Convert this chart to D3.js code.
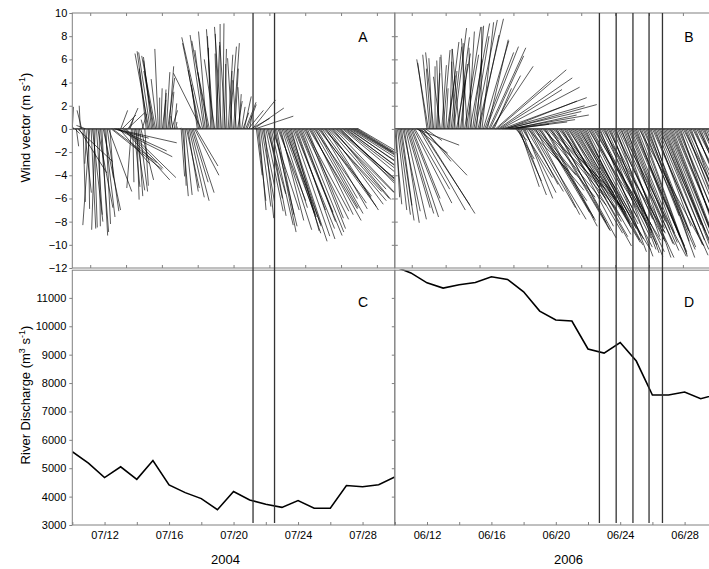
<!DOCTYPE html>
<html>
<head>
<meta charset="utf-8">
<script src="https://cdn.jsdelivr.net/npm/d3@7"></script>
<style>
body { margin: 0; background: #fff; }
svg { display: block; font-family: "Liberation Sans", Arial, sans-serif; }
.axis text { font-size: 11px; fill: #000; }
.axis line { stroke: #808080; }
</style>
</head>
<body>
<div class="chart"></div>
<script>

// wind sticks, one every 2 hours (u, v in m/s)
var windStep = 2;
var windStartA = "2004-07-10 00:00";
var windA_u = [
  0.1, -0.6, 0.4, 0.2, 3.0, 2.4, -0.1, -0.4, 0.2, 0.6,
  -0.8, -0.2, 0.1, -0.6, 0.4, 0.9, 0.3, -0.3, 0.5, 1.3,
  0.1, 0.7, 0.5, 1.5, 0.9, 0.4, 1.0, 2.0, 0.3, 4.4,
  3.8, 3.0, 5.3, 4.8, 4.2, 2.6, 0.6, 1.2, 4.0, 3.3,
  4.3, 1.5, 0.8, 0.3, -0.4, 0.1, 0.5, 0.8, 0.2, 0.4,
  0.7, 1.1, 0.4, -0.2, 0.3, -0.6, -0.9, -1.2, -1.0, -0.7,
  -0.8, -0.9, -1.2, -0.5, -0.3, 0.0, 0.1, 0.3, 0.2, 0.1,
  0.3, 0.6, 0.4, 0.3, 0.5, -0.2, 0.2, 0.1, 0.0, 0.0,
  0.1, 0.3, 0.5, 0.2, 0.6, 1.1, 0.9, 1.3, 1.6, 1.4,
  1.8, 2.1, 1.9, -0.5, -0.9, -1.5, -2.4, -1.8, -1.2, -0.9,
  -0.7, -1.4, -1.0, -0.2, -0.4, -0.6, -0.9, 0.3, -0.2, -0.3,
  0.0, -0.6, 0.1, 0.2, -0.5, -0.1, 0.4, 0.6, 0.1, -0.4,
  0.5, 0.3, -0.3, 0.4, 0.2, -0.2, 0.3, 0.5, 0.6, 0.9,
  0.8, 1.3, 0.2, 1.6, 2.0, 2.6, 3.3, 0.5, 0.7, 0.6,
  0.9, 1.1, 1.0, 0.8, 1.5, 1.6, 1.2, 1.4, 1.9, 2.3,
  2.0, 1.8, 1.5, 2.4, 2.8, 2.0, 2.2, 2.7, 3.1, 3.0,
  2.5, 2.8, 3.2, 2.4, 3.2, 3.5, 2.6, 3.3, 3.8, 2.9,
  3.0, 3.6, 3.9, 3.8, 3.4, 3.1, 4.2, 4.4, 3.6, 3.9,
  4.5, 4.1, 3.5, 4.6, 4.9, 4.0, 4.2, 5.0, 5.3, 4.5,
  4.8, 5.2, 5.5, 4.7, 5.0, 5.4, 5.6, 5.0, 5.2, 5.5,
  5.8, 5.6, 5.2, 5.1, 5.0, 4.9, 4.8, 4.7, 4.6, 4.8,
  4.9, 5.0, 5.2, 5.1
];
var windA_v = [
  1.9, 1.2, -0.4, -1.5, -2.8, -3.8, 2.0, 1.6, -6.3, -5.5,
  0.3, -3.0, -6.9, -8.3, -8.6, -8.0, -8.5, -8.7, -7.4, -6.8,
  -8.4, -8.9, -9.2, -7.0, -7.6, -8.2, -7.1, -5.4, -4.2, -3.5,
  -2.9, -0.8, -1.2, -2.4, -1.9, -3.0, 1.6, 1.2, -4.4, -3.4,
  -4.2, 1.4, 1.8, 0.9, -5.1, -4.6, -5.0, -5.3, -6.1, -5.8,
  -5.4, -4.4, 1.3, 0.8, -4.9, 5.2, 6.7, 6.5, 6.6, 6.2,
  5.9, 5.0, 6.3, 4.3, 6.9, 2.7, 3.5, 2.5, 3.4, 3.1,
  4.9, 4.4, 5.4, 3.2, 1.6, 1.1, 2.2, 0.6, 0.2, 0.0,
  0.1, -4.1, -5.8, -4.9, -5.7, -5.1, -5.4, -5.9, -6.2, -4.6,
  -5.5, -4.0, -3.2, 3.8, 5.1, 7.4, 4.8, 7.9, 8.1, 6.8,
  8.4, 7.6, 4.9, 7.0, 8.0, 8.6, 6.0, 7.2, 6.5, 8.2,
  9.05, 8.8, 9.1, 6.9, 7.5, 5.6, 6.4, 7.1, 5.0, 6.1,
  7.4, 5.2, 4.2, 2.4, 3.0, 3.6, 1.9, 1.4, 2.8, 2.3,
  2.1, 1.6, 1.2, 0.9, 2.5, 1.8, 1.1, -4.0, -6.2, -7.0,
  -6.7, -6.3, -5.0, -7.7, -7.1, -5.6, -6.0, -7.5, -8.3, -7.0,
  -8.4, -8.9, -7.4, -6.2, -8.7, -7.9, -6.8, -7.3, -8.2, -9.0,
  -7.6, -8.4, -9.7, -8.8, -9.25, -8.6, -7.0, -9.5, -9.2, -7.2,
  -8.0, -8.9, -7.8, -7.1, -8.6, -7.7, -6.9, -7.9, -7.4, -6.8,
  -6.4, -7.3, -6.0, -5.8, -6.7, -6.9, -5.9, -5.4, -6.2, -7.0,
  -6.5, -6.0, -5.5, -5.2, -6.1, -5.7, -5.0, -4.3, -4.6, -5.1,
  -5.9, -4.6, -4.0, -3.7, -3.8, -3.3, -3.4, -3.0, -2.8, -2.9,
  -3.0, -3.1, -3.2, -3.0
];

var windStartB = "2006-06-10 00:00";
var windB_u = [
  0.6, 0.3, 0.8, 1.0, 1.2, 0.9, 1.5, 1.3, 1.8, 2.0,
  2.2, 2.5, 2.8, 2.4, 3.3, 3.0, 3.7, 2.6, 4.0, 4.3,
  4.6, 3.8, 2.3, 1.4, -0.8, -1.0, -0.6, -0.4, -0.3, -0.7,
  0.0, 0.3, 0.2, -0.2, -0.6, 0.4, 0.6, -0.3, 0.2, 0.7,
  0.9, 0.2, 0.5, 0.8, 1.1, -0.3, 1.2, 1.0, -0.6, 0.6,
  0.3, 0.0, 1.4, 1.1, -0.5, 0.5, 1.7, -0.2, 0.8, 1.3,
  1.9, 0.6, 2.2, 1.7, 0.1, 1.0, 2.2, 2.5, 2.8, 1.8,
  3.2, 2.9, 3.6, 2.4, 1.5, 4.8, 6.0, 6.4, 5.4, 6.8,
  7.3, 7.0, 6.6, 6.1, 7.7, 6.9, 5.6, 4.8, 5.5, 3.0,
  1.0, 1.5, 2.0, 1.7, 2.2, 2.6, 2.8, 2.4, 3.2, 3.5,
  2.5, 3.9, 4.7, 4.4, 3.6, 3.8, 4.3, 4.9, 4.3, 4.7,
  5.2, 5.4, 4.5, 4.1, 5.0, 5.6, 5.1, 4.7, 5.5, 5.8,
  5.2, 4.6, 5.0, 5.7, 5.3, 4.4, 4.8, 5.4, 5.6, 5.0,
  4.5, 5.2, 5.9, 4.9, 4.2, 5.5, 6.3, 4.8, 4.4, 5.3,
  5.0, 4.5, 3.8, 4.9, 5.5, 4.2, 4.0, 5.2, 5.8, 4.4,
  3.8, 4.6, 5.0, 4.0, 4.3, 5.4, 5.2, 4.1, 3.9, 4.9,
  4.6, 3.9, 3.5, 4.4, 5.1, 3.7, 4.0, 4.8, 5.7, 3.3,
  3.6, 4.2, 4.6, 3.8, 3.2, 3.5, 4.0, 4.7, 4.4, 3.9,
  3.3, 4.3, 5.6, 3.4, 3.9, 4.5, 3.0, 3.7, 4.2, 4.0,
  3.5, 3.3, 4.8, 4.2, 3.1, 3.6, 4.4, 4.9, 3.8, 3.4,
  4.6, 4.0, 3.4, 3.8, 4.1, 4.4, 3.6, 3.3, 4.5, 4.1,
  3.2, 3.9, 4.0, 3.5, 3.7, 4.6, 4.3, 3.7, 3.5, 4.1,
  3.9, 3.4, 4.2, 3.9, 3.6, 4.3, 4.0, 3.6, 3.4, 3.9,
  3.8, 3.3, 3.5, 3.8, 3.7, 3.5, 3.4, 3.9, 3.6, 3.5
];
var windB_v = [
  -6.5, -5.9, -7.0, -7.4, -7.9, -6.6, -7.1, -8.1, -7.8, -6.8,
  -7.3, -7.6, -7.1, -6.0, -6.4, -5.2, -1.4, -2.1, -7.0, -6.6,
  -7.3, -4.0, -2.8, -1.0, 5.7, 6.0, 6.4, 5.2, 6.1, 6.6,
  5.4, 4.8, 6.2, 5.9, 4.5, 5.5, 6.8, 6.4, 3.5, 4.6,
  7.5, 6.9, 5.0, 7.1, 8.7, 5.8, 6.5, 7.9, 6.9, 5.6,
  4.2, 7.4, 8.8, 6.4, 7.8, 8.4, 9.1, 7.0, 6.0, 8.0,
  9.4, 8.9, 9.5, 8.1, 8.8, 9.2, 7.6, 6.6, 7.1, 7.7,
  7.0, 6.3, 5.4, 4.6, 3.5, 4.2, 5.1, 4.4, 3.4, 3.6,
  2.7, 2.0, 1.5, 2.4, 2.1, 1.2, 0.8, 0.6, 1.2, 0.4,
  -1.0, -2.6, -4.5, -5.0, -5.7, -4.2, -5.5, -6.0, -5.4, -3.6,
  -4.8, -6.8, -7.8, -5.3, -4.0, -7.4, -6.2, -5.9, -7.2, -7.9,
  -5.0, -6.6, -8.4, -7.7, -6.0, -5.5, -8.7, -8.1, -7.0, -6.8,
  -9.4, -8.8, -6.5, -7.2, -9.0, -8.4, -7.5, -9.3, -10.1, -7.4,
  -8.0, -9.1, -9.8, -8.2, -7.0, -9.6, -10.4, -7.7, -8.5, -10.0,
  -9.2, -8.6, -8.0, -9.5, -8.8, -8.2, -7.6, -10.2, -9.6, -7.9,
  -6.8, -9.4, -10.0, -10.6, -8.3, -9.0, -10.6, -11.0, -9.0, -9.7,
  -11.0, -10.4, -7.8, -8.9, -11.1, -10.7, -9.5, -10.0, -11.0, -9.3,
  -8.6, -9.9, -10.5, -11.1, -8.0, -8.7, -9.8, -10.6, -10.1, -9.4,
  -9.0, -11.0, -10.1, -9.2, -10.8, -10.4, -7.5, -8.8, -10.2, -11.1,
  -9.0, -9.7, -10.9, -10.0, -8.4, -9.1, -10.4, -10.8, -9.6, -8.3,
  -11.2, -10.3, -8.8, -9.5, -10.0, -10.9, -9.3, -8.6, -10.6, -9.9,
  -8.2, -9.2, -9.8, -10.5, -8.9, -9.0, -10.2, -9.7, -8.5, -8.3,
  -9.4, -9.9, -8.0, -8.6, -9.1, -8.2, -7.6, -9.0, -8.7, -8.1,
  -7.9, -8.9, -8.4, -7.8, -7.7, -8.6, -8.0, -7.9, -7.5, -8.2
];

// daily river discharge (m3/s), starting at the panel's first day
var dischargeA = [5580, 5180, 4670, 5050, 4610, 5270, 4410, 4140, 3930, 3540, 4180,
  3880, 3730, 3620, 3860, 3590, 3590, 4390, 4350, 4420, 4690];
var dischargeB = [12100, 11880, 11530, 11345, 11460, 11545, 11745, 11650, 11215, 10535, 10220,
  10185, 9200, 9056, 9430, 8775, 7580, 7580, 7685, 7450, 7600];

// times of the vertical marker lines
var eventsA = ["2004-07-21 05:00", "2004-07-22 13:00"];
var eventsB = ["2006-06-22 17:00", "2006-06-23 18:00", "2006-06-24 19:00", "2006-06-25 19:00", "2006-06-26 15:00"];

var windTicks = d3.range(-12, 11, 2);
var qTicks = d3.range(3000, 11001, 1000);

// layout
var svgWidth = 709;
var svgHeight = 569;
var xLeft = 72.3, xMid = 394.8, xRight = 716.8;
var wTop = 13, wBottom = 268, qTop = 269.5, qBottom = 525;
var frameColor = "#808080";

var svg = d3.select(".chart")
    .append("svg")
    .attr("width", svgWidth)
    .attr("height", svgHeight);

var parse = d3.timeParse("%Y-%m-%d %H:%M");

var yWind = d3.scaleLinear().domain([-12, 10]).range([wBottom, wTop]);
var yQ = d3.scaleLinear().domain([3000, 12000]).range([qBottom, qTop]);
var unit = yWind(0) - yWind(1); // px per m/s, used for the u component

var panels = [
  { start: parse(windStartA), u: windA_u, v: windA_v, q: dischargeA, events: eventsA,
    x0: xLeft, x1: xMid, tickDomain: [-1, 17], year: "2004", yearDay: 9.5,
    wLabel: "A", qLabel: "C", labelX: 363 },
  { start: parse(windStartB), u: windB_u, v: windB_v, q: dischargeB, events: eventsB,
    x0: xMid, x1: xRight, tickDomain: [-1, 18], year: "2006", yearDay: 10.8,
    wLabel: "B", qLabel: "D", labelX: 689 }
];

var fmt = d3.timeFormat("%m/%d");

panels.forEach(function(p, n) {
  var x = d3.scaleTime()
      .domain([p.start, d3.timeDay.offset(p.start, 20)])
      .range([p.x0, p.x1]);

  // clip areas
  svg.append("clipPath").attr("id", "clipW" + n)
    .append("rect").attr("x", p.x0).attr("y", wTop).attr("width", p.x1 - p.x0).attr("height", wBottom - wTop);
  svg.append("clipPath").attr("id", "clipQ" + n)
    .append("rect").attr("x", p.x0).attr("y", qTop).attr("width", p.x1 - p.x0).attr("height", qBottom - qTop);

  // wind sticks
  var sticks = p.u.map(function(d, i) {
    return { t: d3.timeHour.offset(p.start, i * windStep), u: d, v: p.v[i] };
  });

  var wG = svg.append("g").attr("clip-path", "url(#clipW" + n + ")");

  wG.selectAll("line.stick")
    .data(sticks)
    .enter()
    .append("line")
    .attr("class", "stick")
    .attr("x1", function(d) { return x(d.t); })
    .attr("y1", yWind(0))
    .attr("x2", function(d) { return x(d.t) + d.u * unit; })
    .attr("y2", function(d) { return yWind(d.v); })
    .attr("stroke", "#000")
    .attr("stroke-width", 0.65);

  // zero line along the span of the wind record
  wG.append("line")
    .attr("x1", x(sticks[0].t))
    .attr("x2", x(sticks[sticks.length - 1].t))
    .attr("y1", yWind(0))
    .attr("y2", yWind(0))
    .attr("stroke", "#222")
    .attr("stroke-width", 1.4);

  // discharge
  var line = d3.line()
    .x(function(d, i) { return x(d3.timeDay.offset(p.start, i)); })
    .y(function(d) { return yQ(d); });

  svg.append("path")
    .datum(p.q)
    .attr("clip-path", "url(#clipQ" + n + ")")
    .attr("d", line)
    .attr("fill", "none")
    .attr("stroke", "#000")
    .attr("stroke-width", 1.6);

  // frames
  svg.append("rect")
    .attr("x", p.x0).attr("y", wTop).attr("width", p.x1 - p.x0).attr("height", wBottom - wTop)
    .attr("fill", "none").attr("stroke", frameColor);
  svg.append("rect")
    .attr("x", p.x0).attr("y", qTop + 0.7).attr("width", p.x1 - p.x0).attr("height", qBottom - qTop - 0.7)
    .attr("fill", "none").attr("stroke", frameColor);

  // unlabelled ticks on top and bottom of the wind panel
  var tickScale = d3.scaleLinear().domain(p.tickDomain).range([p.x0, p.x1]);
  var tickVals = d3.range(0, p.tickDomain[1] + 0.1, 2);

  svg.append("g")
    .attr("class", "axis")
    .attr("transform", "translate(0," + wTop + ")")
    .call(d3.axisTop(tickScale).tickValues(tickVals).tickSize(-3).tickSizeOuter(0).tickFormat(""))
    .call(function(g) { g.select(".domain").remove(); });

  svg.append("g")
    .attr("class", "axis")
    .attr("transform", "translate(0," + wBottom + ")")
    .call(d3.axisBottom(tickScale).tickValues(tickVals).tickSize(-3).tickSizeOuter(0).tickFormat(""))
    .call(function(g) { g.select(".domain").remove(); });

  // date axis
  var dateTicks = d3.range(0, 21, 2).map(function(k) { return d3.timeDay.offset(p.start, k); });
  svg.append("g")
    .attr("class", "axis")
    .attr("transform", "translate(0," + qBottom + ")")
    .call(d3.axisBottom(x).tickValues(dateTicks).tickSize(-3).tickSizeOuter(0).tickPadding(6)
      .tickFormat(function(d, i) { return i % 2 === 1 ? fmt(d) : ""; }))
    .call(function(g) { g.select(".domain").remove(); });

  // event lines
  svg.selectAll(null)
    .data(p.events)
    .enter()
    .append("line")
    .attr("x1", function(d) { return x(parse(d)); })
    .attr("x2", function(d) { return x(parse(d)); })
    .attr("y1", wTop)
    .attr("y2", 523)
    .attr("stroke", "#333")
    .attr("stroke-width", 1.3);

  // panel letters
  svg.append("text").attr("x", p.labelX).attr("y", 42)
    .attr("text-anchor", "middle").attr("font-size", 14).text(p.wLabel);
  svg.append("text").attr("x", p.labelX).attr("y", 307)
    .attr("text-anchor", "middle").attr("font-size", 14).text(p.qLabel);

  // year
  svg.append("text")
    .attr("x", x(d3.timeHour.offset(p.start, p.yearDay * 24)))
    .attr("y", 564)
    .attr("text-anchor", "middle")
    .attr("font-size", 13)
    .text(p.year);
});

// y axes
svg.append("g")
  .attr("class", "axis")
  .attr("transform", "translate(" + xLeft + ",0)")
  .call(d3.axisLeft(yWind).tickValues(windTicks).tickSize(3).tickPadding(2).tickSizeOuter(0))
  .call(function(g) { g.select(".domain").remove(); });

svg.append("g")
  .attr("class", "axis")
  .attr("transform", "translate(" + xMid + ",0)")
  .call(d3.axisRight(yWind).tickValues(windTicks.slice(1, -1)).tickSize(-3).tickSizeOuter(0).tickFormat(""))
  .call(function(g) { g.select(".domain").remove(); });

svg.append("g")
  .attr("class", "axis")
  .attr("transform", "translate(" + xMid + ",0)")
  .call(d3.axisRight(yWind).tickValues(windTicks.slice(1, -1)).tickSize(3).tickSizeOuter(0).tickFormat(""))
  .call(function(g) { g.select(".domain").remove(); });

svg.append("g")
  .attr("class", "axis")
  .attr("transform", "translate(" + xLeft + ",0)")
  .call(d3.axisLeft(yQ).tickValues(qTicks).tickSize(3).tickPadding(3).tickSizeOuter(0).tickFormat(d3.format("d")))
  .call(function(g) { g.select(".domain").remove(); });

svg.append("g")
  .attr("class", "axis")
  .attr("transform", "translate(" + xMid + ",0)")
  .call(d3.axisRight(yQ).tickValues(qTicks.slice(1)).tickSize(-3).tickSizeOuter(0).tickFormat(""))
  .call(function(g) { g.select(".domain").remove(); });

// axis titles
var t1 = svg.append("text")
  .attr("transform", "translate(30," + 127.5 + ") rotate(-90)")
  .attr("text-anchor", "middle")
  .attr("font-size", 13);
t1.append("tspan").text("Wind vector (m s");
t1.append("tspan").attr("dy", -5).attr("font-size", 9).text("-1");
t1.append("tspan").attr("dy", 5).text(")");

var t2 = svg.append("text")
  .attr("transform", "translate(30," + 395 + ") rotate(-90)")
  .attr("text-anchor", "middle")
  .attr("font-size", 13);
t2.append("tspan").text("River Discharge (m");
t2.append("tspan").attr("dy", -5).attr("font-size", 9).text("3");
t2.append("tspan").attr("dy", 5).text(" s");
t2.append("tspan").attr("dy", -5).attr("font-size", 9).text("-1");
t2.append("tspan").attr("dy", 5).text(")");

</script>
</body>
</html>
